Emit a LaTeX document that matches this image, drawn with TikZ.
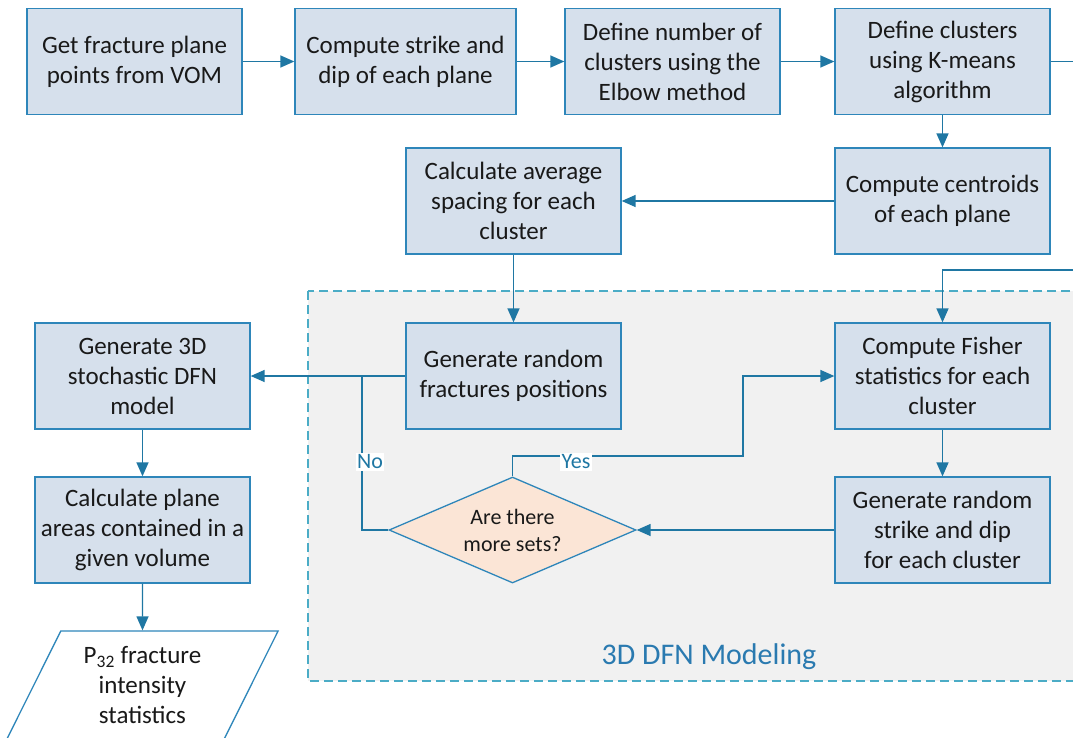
\documentclass[tikz,border=0pt]{standalone}
\usepackage{fontspec}
\setmainfont{Carlito}
\usetikzlibrary{arrows.meta,shapes.geometric}
\definecolor{boxfill}{RGB}{214,224,236}
\definecolor{boxline}{RGB}{46,134,186}
\definecolor{arrcol}{RGB}{31,119,163}
\definecolor{decfill}{RGB}{251,229,214}
\definecolor{dashcol}{RGB}{75,172,198}
\definecolor{regfill}{RGB}{241,241,241}
\definecolor{titlecol}{RGB}{42,122,176}
\definecolor{txt}{RGB}{25,25,25}
\tikzset{
  procbox/.style={draw=boxline, fill=boxfill, line width=1.3pt, minimum width=215pt, minimum height=106pt, align=center, inner sep=2pt, text=txt, font=\fontsize{25}{30}\selectfont},
  decbox/.style={diamond, draw=boxline, fill=decfill, line width=1.3pt, minimum width=247pt, minimum height=106pt, inner sep=0pt},
  iobox/.style={trapezium, trapezium left angle=64, trapezium right angle=116, trapezium stretches=true, draw=boxline, fill=white, line width=1.3pt, minimum width=272pt, minimum height=108pt, align=center, text=txt, font=\fontsize{25}{30}\selectfont},
  flow/.style={draw=arrcol, line width=1.4pt, -{Triangle[length=14pt,width=12pt]}},
  plain/.style={draw=arrcol, line width=1.4pt},
  tag/.style={fill=white, inner sep=1.5pt, text=arrcol, font=\fontsize{22}{24}\selectfont},
}
\begin{document}
\begin{tikzpicture}[x=1pt,y=-1pt]
\useasboundingbox (0,0) rectangle (1073,737);
\clip (0,0) rectangle (1073,737);
% region
\draw[draw=dashcol, fill=regfill, line width=1.5pt, dash pattern=on 9pt off 5pt] (308,291) rectangle (1090,681);
\node[text=titlecol, font=\fontsize{30}{34}\selectfont] (regtitle) at (709,657) {3D DFN Modeling};
% nodes
\node[procbox] (b1) at (134.5,61.5) {Get fracture plane\\points from VOM};
\node[procbox, minimum width=221pt] (b2) at (405.5,61.5) {Compute strike and\\dip of each plane};
\node[procbox] (b3) at (672.5,61.5) {Define number of\\clusters using the\\Elbow method};
\node[procbox] (b4) at (942.5,61.5) {Define clusters\\using K-means\\algorithm};
\node[procbox] (cent) at (942.5,201) {Compute centroids\\of each plane};
\node[procbox] (avg) at (513.5,201) {Calculate average\\spacing for each\\cluster};
\node[procbox] (pos) at (513.5,376) {Generate random\\fractures positions};
\node[procbox] (gen) at (142.5,376) {Generate 3D\\stochastic DFN\\model};
\node[procbox] (fish) at (942.5,376) {Compute Fisher\\statistics for each\\cluster};
\node[procbox] (strike) at (942.5,530) {Generate random\\strike and dip\\for each cluster};
\node[procbox] (area) at (142.5,530) {Calculate plane\\areas contained in a\\given volume};
\node[decbox] (dia) at (512.5,530) {};
\node[align=center, text=txt, font=\fontsize{22}{27}\selectfont] (diatext) at (dia) {Are there\\more sets?};
\node[iobox] (p32) at (142.5,685) {P\textsubscript{32} fracture\\intensity\\statistics};
% coordinates
\coordinate (offA) at (1090,61.5);
\coordinate (offB) at (1090,270);
\coordinate (yesC) at (743,456);
\coordinate (noC) at (362,376);
% connectors
\draw[flow] (b1) -- (b2);
\draw[flow] (b2) -- (b3);
\draw[flow] (b3) -- (b4);
\draw[plain] (b4.east) -- (offA);
\draw[flow] (b4) -- (cent);
\draw[flow] (cent) -- (avg);
\draw[flow] (avg) -- (pos);
\draw[flow] (pos) -- (gen);
\draw[flow] (offB) -| (fish.north);
\draw[flow] (fish) -- (strike);
\draw[flow] (strike) -- (dia);
\draw[flow] (dia.north) |- (yesC) |- (fish.west);
\draw[plain] (dia.west) -| (noC);
\draw[flow] (gen) -- (area);
\draw[flow] (area) -- (p32.north);
\node[tag] (yes) at (576,462) {Yes};
\node[tag] (no) at (370,462) {No};
\end{tikzpicture}
\end{document}
